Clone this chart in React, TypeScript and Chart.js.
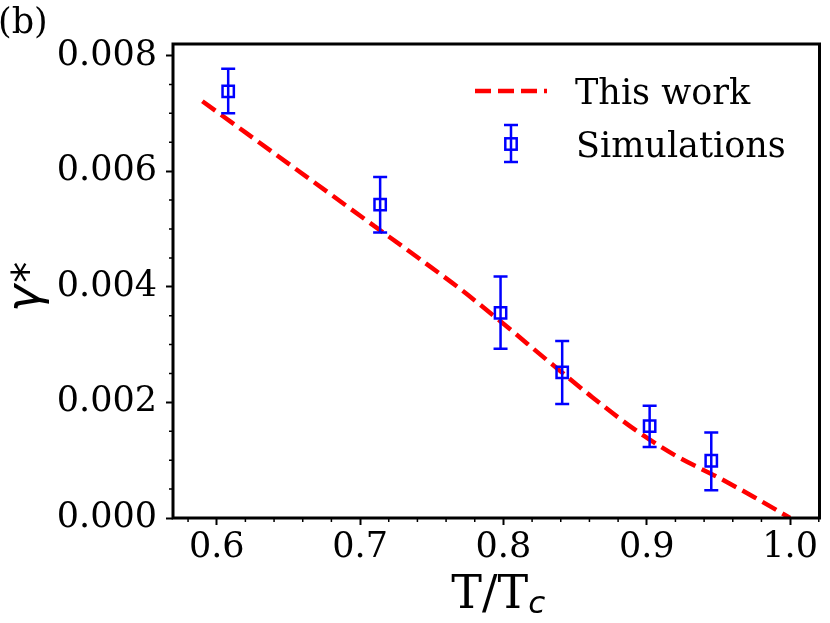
import React, { useEffect, useRef } from 'react';
import { Chart, registerables } from 'chart.js';

Chart.register(...registerables);

// dashed model curve ("This work")
const curveT: number[] = [0.59, 0.62, 0.65, 0.68, 0.71, 0.74, 0.77, 0.8, 0.83, 0.86, 0.89, 0.92, 0.95, 0.975, 1.0];
const curveGamma: number[] = [0.00721, 0.00667, 0.00613, 0.00559, 0.00505, 0.00451, 0.00396, 0.00336, 0.00274, 0.00213, 0.00156, 0.00108, 0.0007, 0.00036, 0.0];

// simulation points with error bars
const simT: number[] = [0.608, 0.714, 0.798, 0.841, 0.902, 0.945];
const simGamma: number[] = [0.00738, 0.00542, 0.00355, 0.00252, 0.00159, 0.00099];
const simHigh: number[] = [0.00777, 0.0059, 0.00418, 0.00306, 0.00194, 0.00148];
const simLow: number[] = [0.007, 0.00494, 0.00293, 0.00197, 0.00123, 0.00048];

const xTicks: number[] = [0.6, 0.7, 0.8, 0.9, 1.0];
const yTicks: number[] = [0, 0.002, 0.004, 0.006, 0.008];

const RED = '#ff0000';
const BLUE = '#0000ff';
const SERIF = '"DejaVu Serif", serif';
const SANS = '"DejaVu Sans", sans-serif';

const extrasPlugin = {
  id: 'extras',
  afterDatasetsDraw(chart: any) {
    const { ctx } = chart;
    const xs = chart.scales.x;
    const ys = chart.scales.y;
    ctx.save();
    ctx.strokeStyle = BLUE;
    ctx.lineWidth = 2.5;
    simT.forEach((t, i) => {
      const px = xs.getPixelForValue(t);
      const top = ys.getPixelForValue(simHigh[i]);
      const bot = ys.getPixelForValue(simLow[i]);
      ctx.beginPath();
      ctx.moveTo(px, top);
      ctx.lineTo(px, bot);
      ctx.moveTo(px - 7, top);
      ctx.lineTo(px + 7, top);
      ctx.moveTo(px - 7, bot);
      ctx.lineTo(px + 7, bot);
      ctx.stroke();
    });
    ctx.restore();
  },
  afterDraw(chart: any) {
    const { ctx, chartArea } = chart;
    const xs = chart.scales.x;
    const ys = chart.scales.y;
    const { left, right, top, bottom } = chartArea;
    ctx.save();

    // minor ticks
    ctx.strokeStyle = '#000';
    ctx.lineWidth = 1.5;
    ctx.beginPath();
    for (let k = 29; k <= 51; k++) {
      if (k % 5 === 0) continue;
      const px = xs.getPixelForValue(k * 0.02);
      if (px < left || px > right) continue;
      ctx.moveTo(px, bottom);
      ctx.lineTo(px, bottom + 4);
    }
    for (let k = 0; k <= 16; k++) {
      if (k % 4 === 0) continue;
      const py = ys.getPixelForValue(k * 0.0005);
      ctx.moveTo(left, py);
      ctx.lineTo(left - 4, py);
    }
    ctx.stroke();

    // frame
    ctx.lineWidth = 3;
    ctx.strokeRect(left, top, right - left, bottom - top);

    // x title T/T_c
    ctx.fillStyle = '#000';
    ctx.textBaseline = 'alphabetic';
    ctx.textAlign = 'left';
    ctx.font = `46px ${SERIF}`;
    const main = 'T/T';
    const mw = ctx.measureText(main).width;
    ctx.font = `italic 31px ${SANS}`;
    const sw = ctx.measureText('c').width;
    const x0 = (left + right) / 2 + 2 - (mw + sw) / 2;
    ctx.font = `46px ${SERIF}`;
    ctx.fillText(main, x0, 608);
    ctx.font = `italic 31px ${SANS}`;
    ctx.fillText('c', x0 + mw, 613);

    // y title gamma*
    ctx.save();
    ctx.translate(39, 312);
    ctx.rotate(-Math.PI / 2);
    ctx.font = `italic 46px ${SANS}`;
    ctx.fillText('γ', 0, 0);
    const gw = ctx.measureText('γ').width;
    ctx.font = `42px ${SANS}`;
    ctx.fillText('*', gw + 2, 3);
    ctx.restore();

    // panel label
    ctx.font = `35px ${SERIF}`;
    ctx.fillText('(b)', -2, 33);

    // legend
    ctx.strokeStyle = RED;
    ctx.lineWidth = 4.5;
    ctx.setLineDash([16, 7]);
    ctx.beginPath();
    ctx.moveTo(475, 91);
    ctx.lineTo(547, 91);
    ctx.stroke();
    ctx.setLineDash([]);
    ctx.strokeStyle = BLUE;
    ctx.lineWidth = 2.5;
    ctx.beginPath();
    ctx.moveTo(511, 125);
    ctx.lineTo(511, 162);
    ctx.moveTo(504, 125);
    ctx.lineTo(518, 125);
    ctx.moveTo(504, 162);
    ctx.lineTo(518, 162);
    ctx.stroke();
    ctx.strokeRect(505.3, 138.3, 11.4, 11.4);
    ctx.font = `35px ${SERIF}`;
    ctx.fillStyle = '#000';
    ctx.fillText('This work', 575, 104);
    ctx.fillText('Simulations', 576, 157);

    ctx.restore();
  },
};

const App: React.FC = () => {
  const canvasRef = useRef<HTMLCanvasElement | null>(null);

  useEffect(() => {
    document.body.style.margin = '0';
    const ctx = canvasRef.current?.getContext('2d');
    if (!ctx) return;

    const chart = new Chart(ctx, {
      type: 'scatter',
      data: {
        datasets: [
          {
            label: 'This work',
            data: curveT.map((t, i) => ({ x: t, y: curveGamma[i] })),
            showLine: true,
            borderColor: RED,
            borderWidth: 4.5,
            borderDash: [16, 7],
            pointRadius: 0,
            cubicInterpolationMode: 'monotone',
            order: 2,
          },
          {
            label: 'Simulations',
            data: simT.map((t, i) => ({ x: t, y: simGamma[i] })),
            pointStyle: 'rect',
            pointRadius: 8,
            borderColor: BLUE,
            backgroundColor: 'rgba(0,0,0,0)',
            borderWidth: 2.5,
            order: 1,
          },
        ],
      },
      options: {
        responsive: false,
        animation: false,
        layout: { padding: { left: 0, top: 44, right: 6, bottom: 0 } },
        plugins: {
          legend: { display: false },
          tooltip: { enabled: false },
        },
        scales: {
          x: {
            type: 'linear',
            min: 0.5695,
            max: 1.0205,
            afterBuildTicks: (s: any) => {
              s.ticks = xTicks.map((v) => ({ value: v }));
            },
            afterFit: (s: any) => {
              s.height = 105;
            },
            ticks: {
              color: '#000',
              font: { family: SERIF, size: 35 },
              padding: 2,
              maxRotation: 0,
              autoSkip: false,
              callback: (v: any) => Number(v).toFixed(1),
            },
            grid: { drawOnChartArea: false, tickLength: 7, tickWidth: 2, tickColor: '#000' },
            border: { display: false },
          },
          y: {
            type: 'linear',
            min: 0,
            max: 0.0082,
            afterBuildTicks: (s: any) => {
              s.ticks = yTicks.map((v) => ({ value: v }));
            },
            afterFit: (s: any) => {
              s.width = 173;
            },
            ticks: {
              color: '#000',
              font: { family: SERIF, size: 35 },
              padding: 9,
              autoSkip: false,
              callback: (v: any) => Number(v).toFixed(3),
            },
            grid: { drawOnChartArea: false, tickLength: 7, tickWidth: 2, tickColor: '#000' },
            border: { display: false },
          },
        },
      },
      plugins: [extrasPlugin],
    });

    return () => {
      chart.destroy();
    };
  }, []);

  return (
    <div style={{ width: 830, height: 623, background: '#fff' }}>
      <canvas ref={canvasRef} width={830} height={623} />
    </div>
  );
};

export default App;
